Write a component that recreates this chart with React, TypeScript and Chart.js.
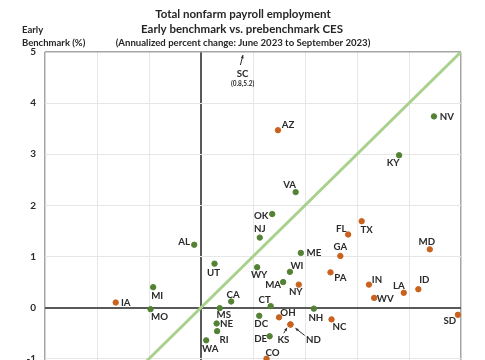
import React, { useEffect, useRef } from "react";
import { Chart, registerables } from "chart.js";

Chart.register(...registerables);

// Prebenchmark CES (x) vs early benchmark (y), annualized % change
const greenStates = ["NV", "KY", "VA", "OK", "NJ", "ME", "WI", "WY", "MA", "CA", "CT", "NH", "DC", "DE", "AL", "UT", "MI", "MO", "MS", "NE", "RI", "WA"];
const greenCES = [4.48, 3.81, 1.82, 1.37, 1.13, 1.92, 1.71, 1.08, 1.58, 0.58, 1.34, 2.17, 1.12, 1.32, -0.13, 0.26, -0.92, -0.97, 0.36, 0.30, 0.31, 0.10];
const greenBench = [3.74, 2.98, 2.26, 1.83, 1.37, 1.07, 0.70, 0.79, 0.50, 0.12, 0.03, -0.02, -0.16, -0.56, 1.23, 0.86, 0.40, -0.03, -0.01, -0.31, -0.46, -0.64];

const orangeStates = ["AZ", "FL", "TX", "MD", "GA", "PA", "NY", "IN", "LA", "ID", "WV", "OH", "KS", "ND", "NC", "SD", "CO", "IA"];
const orangeCES = [1.48, 2.83, 3.09, 4.40, 2.68, 2.49, 1.88, 3.23, 3.90, 4.18, 3.33, 1.50, 1.72, 1.72, 2.51, 4.94, 1.26, -1.64];
const orangeBench = [3.47, 1.43, 1.69, 1.14, 1.01, 0.69, 0.45, 0.45, 0.29, 0.36, 0.19, -0.19, -0.33, -0.33, -0.23, -0.14, -1.00, 0.10];

// Off-chart state
const offState = "SC";
const offCES = 0.8;
const offBench = 5.2;

const axisMin = -3;
const axisMax = 5;
const diagonalX = [-3, 5];
const diagonalY = [-3, 5];

const titleLines = [
  "Total nonfarm payroll employment",
  "Early benchmark vs. prebenchmark CES",
  "(Annualized percent change: June 2023 to September 2023)",
];
const yTitleLines = ["Early", "Benchmark (%)"];

// label center offsets (px) relative to each point
const labelOffset: Record<string, [number, number]> = {
  NV: [13, 0], KY: [-6, 8], VA: [-6, -7], OK: [-11, 2], NJ: [0, -9], ME: [13, 0],
  WI: [7, -6], WY: [2, 8], MA: [-10, 3], CA: [2, -7], CT: [-6, -6], NH: [2, 9],
  DC: [2, 8], DE: [-9, 3], AL: [-10, -3], UT: [-1, 9], MI: [4, 9], MO: [9, 8],
  MS: [4, 7], NE: [10, 0], RI: [7, 9], WA: [4, 9],
  AZ: [10, -5], FL: [-7, -6], TX: [5, 9], MD: [-3, -7], GA: [0, -9], PA: [10, 6],
  NY: [-3, 7], IN: [8, -5], LA: [-5, -7], ID: [6, -9], WV: [11, 1], OH: [9, -4],
  KS: [-7, 15], ND: [23, 15], NC: [8, 7], SD: [-8, 6], CO: [6, -6], IA: [10, 0],
};
// arrows: [tailDx, tailDy, headDx, headDy] relative to point
const labelArrows: Record<string, [number, number, number, number]> = {
  KS: [-6.7, 8.7, -3.4, 3.3],
  ND: [14.3, 11, 5, 3.7],
};

const FONT = "Lato, 'Open Sans', sans-serif";
const TEXT = "#2b2b2b";

function arrow(ctx: CanvasRenderingContext2D, x1: number, y1: number, x2: number, y2: number) {
  const ang = Math.atan2(y2 - y1, x2 - x1);
  ctx.beginPath();
  ctx.moveTo(x1, y1);
  ctx.lineTo(x2, y2);
  ctx.stroke();
  const h = 3.5;
  ctx.beginPath();
  ctx.moveTo(x2, y2);
  ctx.lineTo(x2 - h * Math.cos(ang - 0.45), y2 - h * Math.sin(ang - 0.45));
  ctx.lineTo(x2 - h * Math.cos(ang + 0.45), y2 - h * Math.sin(ang + 0.45));
  ctx.closePath();
  ctx.fill();
}

const annotPlugin = {
  id: "annot",
  afterDatasetsDraw(chart: any) {
    const { ctx, scales, chartArea } = chart;
    const xs = scales.x;
    const ys = scales.y;
    ctx.save();
    ctx.fillStyle = TEXT;
    ctx.strokeStyle = TEXT;
    ctx.lineWidth = 1;
    ctx.textAlign = "center";
    ctx.textBaseline = "middle";
    ctx.font = `bold 9.7px ${FONT}`;
    const groups: [string[], number[], number[]][] = [
      [greenStates, greenCES, greenBench],
      [orangeStates, orangeCES, orangeBench],
    ];
    for (const [names, cx, by] of groups) {
      names.forEach((n, i) => {
        const px = xs.getPixelForValue(cx[i]);
        const py = ys.getPixelForValue(by[i]);
        const off = labelOffset[n] || [0, -8];
        ctx.fillText(n, px + off[0], py + off[1]);
        const a = labelArrows[n];
        if (a) arrow(ctx, px + a[0], py + a[1], px + a[2], py + a[3]);
      });
    }
    // off-chart SC
    const sx = xs.getPixelForValue(offCES);
    const top = chartArea.top;
    ctx.fillText(offState, sx, top + 22);
    ctx.font = `bold 6.5px ${FONT}`;
    ctx.fillText(`(${offCES},${offBench})`, sx, top + 32);
    arrow(ctx, sx - 2.2, top + 13, sx + 0.4, top + 3);

    // titles
    ctx.fillStyle = "#262626";
    ctx.font = `bold 11.5px ${FONT}`;
    ctx.fillText(titleLines[0], 243, 14);
    ctx.fillText(titleLines[1], 242, 29);
    ctx.font = `bold 9.6px ${FONT}`;
    ctx.fillText(titleLines[2], 243, 43);
    ctx.textAlign = "left";
    ctx.font = `bold 9.5px ${FONT}`;
    ctx.fillText(yTitleLines[0], 22, 30);
    ctx.fillText(yTitleLines[1], 22, 43);
    ctx.restore();
  },
};

function gridColor(c: any) {
  const v = c.tick && c.tick.value;
  if (v === 0) return "#595959";
  if (v === axisMin || v === axisMax) return "#a6a6a6";
  return "#e6e6e6";
}
function gridWidth(c: any) {
  const v = c.tick && c.tick.value;
  if (v === 0) return 2;
  if (v === axisMin || v === axisMax) return 1.5;
  return 1;
}

export default function App() {
  const ref = useRef<HTMLCanvasElement>(null);
  useEffect(() => {
    if (!ref.current) return;
    const chart = new Chart(ref.current, {
      type: "scatter",
      data: {
        datasets: [
          {
            label: "45 degree",
            data: diagonalX.map((x, i) => ({ x, y: diagonalY[i] })),
            showLine: true,
            borderColor: "#a9d18e",
            borderWidth: 3,
            pointRadius: 0,
            order: 3,
          },
          {
            label: "Green",
            data: greenStates.map((_, i) => ({ x: greenCES[i], y: greenBench[i] })),
            backgroundColor: "#548235",
            borderColor: "#548235",
            pointRadius: 2.7,
            order: 1,
          },
          {
            label: "Orange",
            data: orangeStates.map((_, i) => ({ x: orangeCES[i], y: orangeBench[i] })),
            backgroundColor: "#c9621f",
            borderColor: "#c9621f",
            pointRadius: 2.7,
            order: 2,
          },
        ],
      },
      options: {
        animation: false,
        responsive: false,
        layout: { padding: { top: 52, right: 24, left: 0, bottom: 0 } },
        plugins: { legend: { display: false }, tooltip: { enabled: false }, title: { display: false } },
        scales: {
          x: {
            type: "linear",
            min: axisMin,
            max: axisMax,
            ticks: { stepSize: 1, color: TEXT, font: { family: FONT, size: 10, weight: "bold" } },
            grid: { color: gridColor, lineWidth: gridWidth, drawTicks: false },
            border: { display: false },
            afterFit: (s: any) => { s.height = 39; },
          },
          y: {
            type: "linear",
            min: axisMin,
            max: axisMax,
            ticks: { stepSize: 1, padding: 9, color: TEXT, font: { family: FONT, size: 10, weight: "bold" } },
            grid: { color: gridColor, lineWidth: gridWidth, drawTicks: false },
            border: { display: false },
            afterFit: (s: any) => { s.width = 45; },
          },
        },
      },
      plugins: [annotPlugin],
    } as any);
    return () => chart.destroy();
  }, []);
  return (
    <div style={{ position: "fixed", left: 0, top: 0, width: 485, height: 500, background: "#fff" }}>
      <canvas ref={ref} width={485} height={500} style={{ display: "block" }} />
    </div>
  );
}
